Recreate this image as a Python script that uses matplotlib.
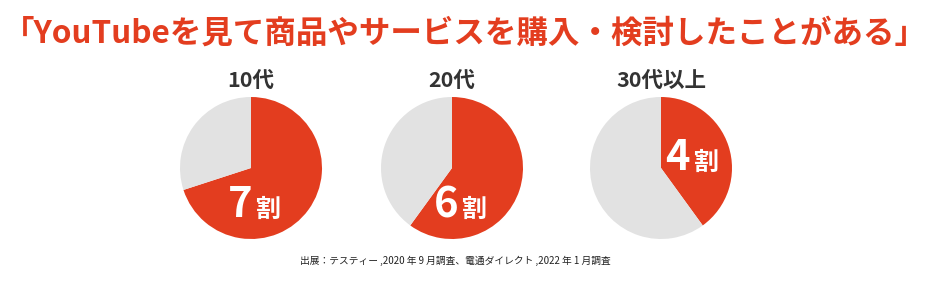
import matplotlib
matplotlib.use("Agg")
import matplotlib.pyplot as plt

plt.rcParams['font.family'] = ['Noto Sans CJK JP', 'DejaVu Sans']

# data
groups = ["10代", "20代", "30代以上"]
share = [0.70, 0.60, 0.40]
share_labels = ["7", "6", "4"]
title = "「YouTubeを見て商品やサービスを購入・検討したことがある」"
source = "出展：テスティー ,2020 年 9 月調査、電通ダイレクト ,2022 年 1 月調査"

RED = "#E33D1F"
GREY = "#E2E2E2"
W, H = 933, 283

fig = plt.figure(figsize=(W / 100, H / 100), dpi=100)
ax = fig.add_axes([0, 0, 1, 1])


def py(y):
    # pixel row from the top -> data y
    return H - y


centers_x = [251, 452, 661]
center_y = 168
radius = 71
# where the big label sits (pixels, relative to centre)
label_off = [(1, 49), (6, 49), (29, 2)]

for i, g in enumerate(groups):
    cx = centers_x[i]
    ax.pie([share[i], 1 - share[i]], colors=[RED, GREY], startangle=90,
           counterclock=False, center=(cx, py(center_y)), radius=radius,
           wedgeprops=dict(linewidth=0), frame=True)
    ax.text(cx, py(80), g, ha="center", va="center", fontsize=15.5,
            fontweight="bold", color="#333333")
    dx, dy = label_off[i]
    ax.text(cx + dx, py(center_y + dy), share_labels[i], ha="right",
            va="baseline", fontsize=30, fontweight="bold", color="white")
    ax.text(cx + dx + 3, py(center_y + dy), "割", ha="left", va="baseline",
            fontsize=18, fontweight="bold", color="white")

ax.set_xlim(0, W)
ax.set_ylim(0, H)
ax.set_aspect("equal")
ax.axis("off")

ax.text(W / 2 - 2, py(34), title, ha="center", va="center", fontsize=22.7,
        fontweight="bold", color=RED)
ax.text(455, py(261), source, ha="center", va="center", fontsize=7,
        color="#222222")

fig.savefig("out.png", dpi=100)
